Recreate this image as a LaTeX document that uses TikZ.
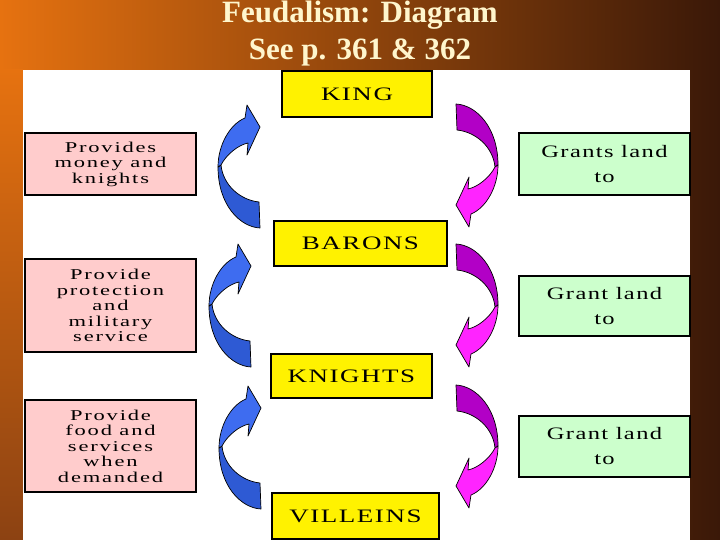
\documentclass[tikz,border=0pt]{standalone}
\usepackage{fontspec}
\setmainfont{Liberation Serif}
\newfontfamily\boxfont[FakeStretch=1.42,LetterSpace=8]{Liberation Serif}
\newfontfamily\greenfont[FakeStretch=1.4,LetterSpace=8]{Liberation Serif}
\newfontfamily\pinkfont[FakeStretch=1.5,LetterSpace=12]{Liberation Serif}
\definecolor{bgL}{RGB}{230,114,16}
\definecolor{bgM}{RGB}{168,80,18}
\definecolor{bgR}{RGB}{58,24,8}
\definecolor{bgBL}{RGB}{140,66,18}
\definecolor{titlecol}{RGB}{255,246,205}
\definecolor{pinkbox}{RGB}{255,204,204}
\definecolor{greenbox}{RGB}{204,255,204}
\definecolor{blueL}{RGB}{62,108,240}
\definecolor{blueD}{RGB}{46,90,212}
\definecolor{magD}{RGB}{178,0,198}
\definecolor{magL}{RGB}{255,36,255}
\tikzset{
  rank/.style={draw=black, line width=1.5pt, fill=yellow, inner sep=0pt,
    font=\boxfont\fontsize{19}{22}\selectfont},
  duty/.style={draw=black, line width=1.5pt, fill=pinkbox, inner sep=0pt,
    minimum width=171pt, align=center,
    font=\pinkfont\fontsize{15}{15.5}\selectfont},
  grant/.style={draw=black, line width=1.5pt, fill=greenbox, inner sep=0pt,
    minimum width=171pt, align=center,
    font=\greenfont\fontsize{17.5}{25}\selectfont},
  titletext/.style={text=titlecol, font=\bfseries\fontsize{31}{37}\selectfont, anchor=base},
  arrowpart/.style={draw=black, line width=0.7pt, line join=round},
  curvarrow/.pic={
    \path[arrowpart, tailfill] (21,62) .. controls (1,61) and (-21,39) .. (-21,1)
      -- (-18,-1) .. controls (-16,19) and (1,34) .. (20,36) -- cycle;
    \path[arrowpart, headfill] (-21,1) .. controls (-21,-21) and (-9,-42) .. (6,-48)
      -- (8,-61) -- (21,-39) -- (8,-11) -- (9,-23)
      .. controls (-1,-21) and (-13,-11) .. (-18,-1) -- cycle;
  },
  bluearrow/.style={tailfill/.style={fill=blueD}, headfill/.style={fill=blueL}},
  magarrow/.style={rotate=180, tailfill/.style={fill=magD}, headfill/.style={fill=magL}}
}
\begin{document}
\begin{tikzpicture}[x=1pt,y=-1pt]
\useasboundingbox (0,0) rectangle (720,540);
% background
\shade[left color=bgL, middle color=bgM, right color=bgR] (0,0) rectangle (720,540);
\shade[top color=bgL, bottom color=bgBL] (0,70) rectangle (23,540);
\fill[white] (23,70) rectangle (690,540);
% title
\node[titletext] (t1) at (360,23) {Feudalism: Diagram};
\node[titletext] (t2) at (360,60) {See p. 361 \& 362};
% ranks
\node[rank, minimum width=150pt, minimum height=46pt] (king) at (357,94) {KING};
\node[rank, minimum width=173pt, minimum height=45pt] (barons) at (360.5,243.5) {BARONS};
\node[rank, minimum width=161pt, minimum height=44pt] (knights) at (351.5,376) {KNIGHTS};
\node[rank, minimum width=167pt, minimum height=46pt] (villeins) at (355.5,516) {VILLEINS};
% duties
\node[duty, minimum height=62pt] (p1) at (110.5,164) {Provides\\money and\\knights};
\node[duty, minimum height=93pt] (p2) at (110.5,305.5) {Provide\\protection\\and\\military\\service};
\node[duty, minimum height=92pt] (p3) at (110.5,446) {Provide\\food and\\services\\when\\demanded};
% grants
\node[grant, minimum height=62pt] (g1) at (604.5,164) {Grants land\\to};
\node[grant, minimum height=60pt] (g2) at (604.5,306) {Grant land\\to};
\node[grant, minimum height=61pt] (g3) at (604.5,446.5) {Grant land\\to};
% curved arrows
\pic[bluearrow] at (239,166) {curvarrow};
\pic[bluearrow] at (230,305) {curvarrow};
\pic[bluearrow] at (240,447) {curvarrow};
\pic[magarrow] at (477,166) {curvarrow};
\pic[magarrow] at (477,306) {curvarrow};
\pic[magarrow] at (477,447) {curvarrow};
\end{tikzpicture}
\end{document}
